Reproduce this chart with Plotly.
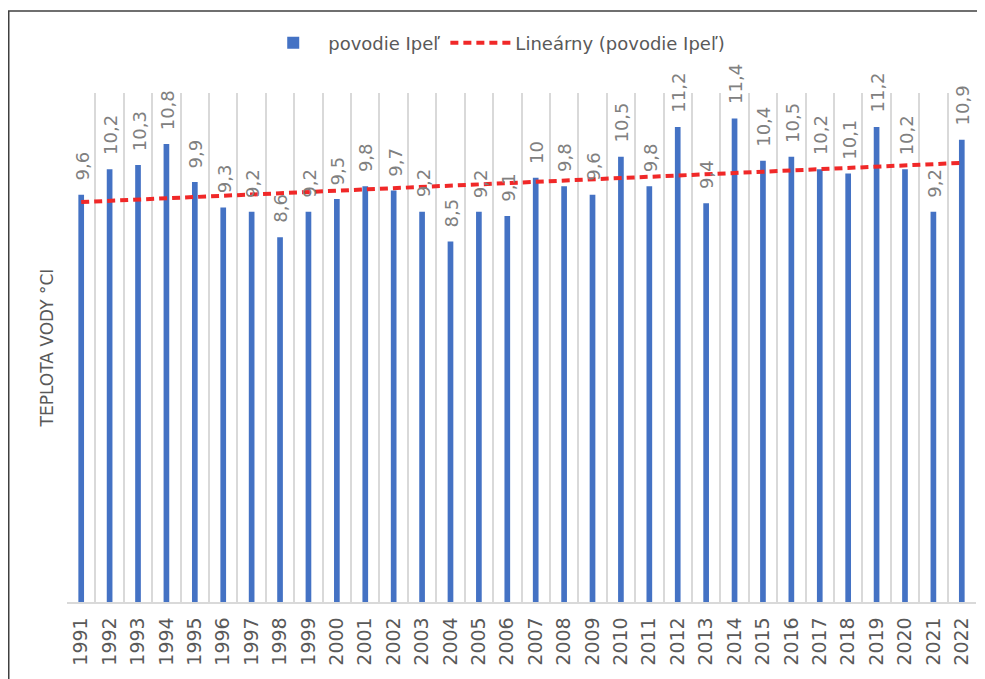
import numpy as np
import plotly.graph_objects as go

years = [str(y) for y in range(1991, 2023)]
values = [9.6, 10.2, 10.3, 10.8, 9.9, 9.3, 9.2, 8.6, 9.2, 9.5,
          9.8, 9.7, 9.2, 8.5, 9.2, 9.1, 10.0, 9.8, 9.6, 10.5,
          9.8, 11.2, 9.4, 11.4, 10.4, 10.5, 10.2, 10.1, 11.2, 10.2,
          9.2, 10.9]
series_name = "povodie Ipeľ"
trend_name = "Lineárny (povodie Ipeľ)"
y_title = "TEPLOTA VODY °CI"

labels = [f"{v:g}".replace(".", ",") for v in values]

# linear trendline (least squares over the series)
idx = np.arange(len(values))
slope, intercept = np.polyfit(idx, values, 1)
trend = (slope * idx + intercept).tolist()

FONT = "DejaVu Sans"
GRAY = "#595959"

# page body has an 8px default margin -> figure is 8px smaller each way
W, H = 977, 671
L, T, R, B = 59, 85, 9, 77
PW, PH = W - L - R, H - T - B

fig = go.Figure()
fig.add_trace(go.Bar(
    x=years, y=values, name=series_name,
    marker=dict(color="#4472C4", line=dict(width=0)),
    width=0.2,
))
fig.add_trace(go.Scatter(
    x=years, y=trend, name=trend_name, mode="lines",
    line=dict(color="#F02828", width=4, dash="8px,5px"),
))

# category axis: annotations are positioned by category index
annotations = [
    dict(x=int(i), y=v, xref="x", yref="y", text=lab, showarrow=False,
         textangle=-90, xanchor="center", yanchor="bottom", yshift=12, xshift=1,
         font=dict(family=FONT, size=18, color="#808080"))
    for i, v, lab in zip(idx, values, labels)
]

fig.update_layout(
    width=W, height=H,
    margin=dict(l=L, r=R, t=T, b=B),
    paper_bgcolor="white", plot_bgcolor="white",
    font=dict(family=FONT, color=GRAY),
    showlegend=True,
    legend=dict(orientation="h", x=0.47, xanchor="center", y=1 + (T - 35) / PH, yanchor="middle",
                font=dict(family=FONT, size=18, color=GRAY), itemwidth=60,
                traceorder="normal"),
    bargap=0.8,
    annotations=annotations,
    shapes=[dict(type="rect", xref="paper", yref="paper",
                 x0=(0.75 - L) / PW, x1=1.2, y0=-0.4, y1=1 + (T - 3) / PH,
                 line=dict(color="#404040", width=1.5), fillcolor="rgba(0,0,0,0)",
                 layer="below")],
)
fig.update_xaxes(
    type="category", tickson="boundaries", showgrid=True,
    gridcolor="#D9D9D9", gridwidth=1.5,
    showline=True, linecolor="#D9D9D9", linewidth=1.5,
    ticks="", tickangle=-90, ticklabelstandoff=6,
    tickfont=dict(family=FONT, size=19, color=GRAY),
    automargin=False,
)
fig.update_yaxes(
    range=[0, 12], showgrid=False, zeroline=False, showticklabels=False,
    ticks="", showline=False,
    title=dict(text=y_title, font=dict(family=FONT, size=17, color=GRAY), standoff=8),
    automargin=False,
)

fig.write_html("out.html")
